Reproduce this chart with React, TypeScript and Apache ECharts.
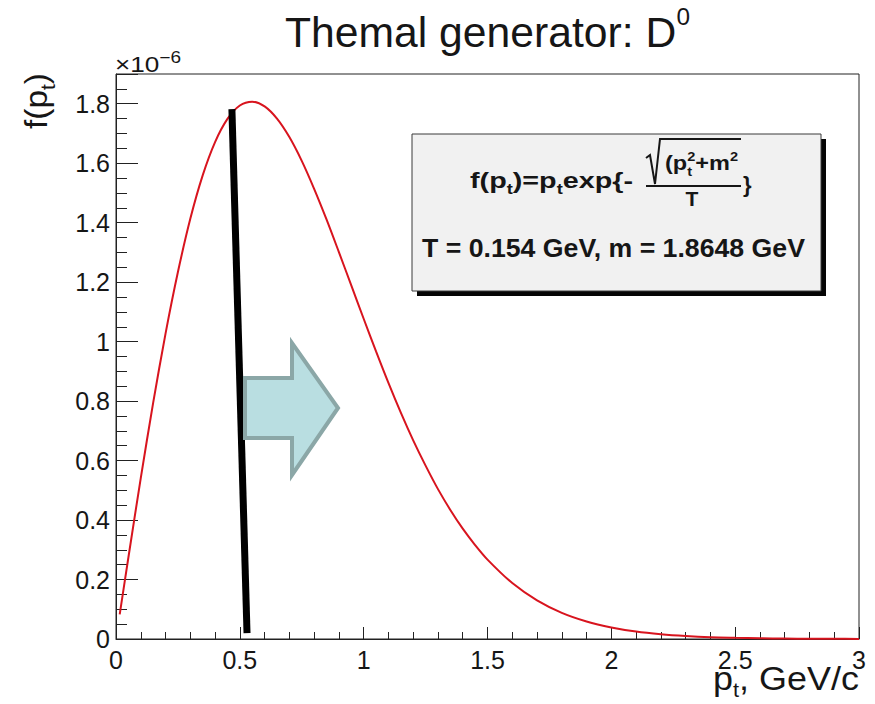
import React, { useEffect, useRef } from 'react';
import * as echarts from 'echarts';

// ---- data (f(pt) in units of 1e-6) ----
const ptValues = [
  0.015, 0.05, 0.1, 0.15, 0.2, 0.25, 0.3, 0.35, 0.4, 0.45, 0.5, 0.55, 0.6, 0.65, 0.7, 0.75,
  0.8, 0.85, 0.9, 0.95, 1.0, 1.05, 1.1, 1.15, 1.2, 1.25, 1.3, 1.35, 1.4, 1.45, 1.5, 1.6, 1.7,
  1.8, 1.9, 2.0, 2.1, 2.2, 2.3, 2.4, 2.5, 2.6, 2.7, 2.8, 2.9, 3.0,
];
const fValues = [
  0.083, 0.274, 0.541, 0.794, 1.027, 1.234, 1.413, 1.559, 1.671, 1.749, 1.794, 1.807, 1.791,
  1.750, 1.688, 1.608, 1.514, 1.411, 1.301, 1.189, 1.077, 0.967, 0.861, 0.761, 0.668, 0.583,
  0.504, 0.434, 0.371, 0.316, 0.267, 0.188, 0.130, 0.088, 0.059, 0.039, 0.025, 0.016, 0.010,
  0.006, 0.004, 0.0025, 0.0015, 0.0009, 0.0006, 0.0003,
];
// hand-drawn black marker line (pt, f)
const markerPt = [0.468, 0.529];
const markerF = [1.782, 0.02];

const xTicks = [0, 0.5, 1, 1.5, 2, 2.5, 3];
const yTickStep = 0.2;
const yMax = 1.9;

const titleText = 'Themal generator: D';
const titleSup = '0';
const formulaLine2 = 'T = 0.154 GeV, m = 1.8648 GeV';

const FONT = "'Liberation Sans', Arial, Helvetica, sans-serif";
const INK = '#161616';

let measureCtx: CanvasRenderingContext2D | null = null;
function measure(t: string, size: number, bold: boolean) {
  if (!measureCtx) measureCtx = document.createElement('canvas').getContext('2d');
  measureCtx!.font = `${bold ? 'bold ' : ''}${size}px ${FONT}`;
  return measureCtx!.measureText(t).width;
}

type Piece = { t: string; size: number; dy?: number; stay?: boolean };
function run(o: {
  x: number; y: number; pieces: Piece[]; bold?: boolean; color?: string;
  anchor?: 'left' | 'right' | 'center'; width?: number; rotation?: number;
}) {
  let cx = 0;
  const children: any[] = [];
  for (const p of o.pieces) {
    const w = measure(p.t, p.size, !!o.bold);
    children.push({
      type: 'text',
      z: 60,
      x: cx,
      y: (p.dy || 0) - 0.35 * p.size,
      style: {
        text: p.t, fontSize: p.size, fontFamily: FONT, fontWeight: o.bold ? 'bold' : 'normal',
        fill: o.color || INK, align: 'left', verticalAlign: 'middle',
      },
    });
    if (!p.stay) cx += w;
  }
  const natural = cx || 1;
  const sx = o.width ? o.width / natural : 1;
  const off = o.anchor === 'right' ? -natural : o.anchor === 'center' ? -natural / 2 : 0;
  children.forEach((c) => (c.x += off));
  return { type: 'group', x: o.x, y: o.y, scaleX: sx, rotation: o.rotation || 0, z: 60, children };
}

export default function App() {
  const ref = useRef<HTMLDivElement>(null);
  useEffect(() => {
    document.body.style.margin = '0';
    if (!ref.current) return;
    const chart = echarts.init(ref.current, undefined, { renderer: 'svg' });
    const axisColor = '#222';
    const option: any = {
      animation: false,
      backgroundColor: '#ffffff',
      grid: { left: 116, right: 16, top: 74, bottom: 65, show: true, borderColor: axisColor, borderWidth: 1, backgroundColor: 'transparent' },
      xAxis: {
        type: 'value', min: xTicks[0], max: xTicks[xTicks.length - 1], interval: xTicks[1] - xTicks[0],
        axisLine: { show: true, onZero: false, lineStyle: { color: axisColor, width: 1 } },
        axisTick: { show: true, inside: true, length: 12, lineStyle: { color: axisColor } },
        minorTick: { show: true, splitNumber: 5, length: 7, lineStyle: { color: axisColor } },
        splitLine: { show: false },
        axisLabel: { fontSize: 25, color: INK, margin: 8, fontFamily: FONT },
      },
      yAxis: {
        type: 'value', min: 0, max: yMax, interval: yTickStep,
        axisLine: { show: true, lineStyle: { color: axisColor, width: 1 } },
        axisTick: { show: true, inside: true, length: 22, lineStyle: { color: axisColor } },
        minorTick: { show: true, splitNumber: 4, length: 11, lineStyle: { color: axisColor } },
        splitLine: { show: false },
        axisLabel: { fontSize: 25, color: INK, margin: 6, fontFamily: FONT, showMaxLabel: false },
      },
      series: [
        {
          type: 'line', data: ptValues.map((x, i) => [x, fValues[i]]), symbol: 'none', smooth: 0.3,
          lineStyle: { color: '#d8141e', width: 2 }, z: 3,
        },
        {
          type: 'line', data: markerPt.map((x, i) => [x, markerF[i]]), symbol: 'none',
          lineStyle: { color: '#000', width: 7 }, z: 4,
        },
      ],
      graphic: [
        run({ x: 285, y: 47, pieces: [{ t: titleText, size: 42 }, { t: titleSup, size: 24, dy: -22 }], width: 405 }),
        run({ x: 115, y: 72, pieces: [{ t: '×10', size: 22 }, { t: '−6', size: 16, dy: -9 }], width: 66 }),
        run({ x: 47, y: 73, rotation: Math.PI / 2, anchor: 'right', width: 56,
          pieces: [{ t: 'f(p', size: 32 }, { t: 't', size: 20, dy: 8 }, { t: ')', size: 32 }] }),
        run({ x: 859, y: 690, anchor: 'right', width: 146,
          pieces: [{ t: 'p', size: 33 }, { t: 't', size: 20, dy: 7 }, { t: ', GeV/c', size: 33 }] }),
        // stat box
        { type: 'rect', z: 40, shape: { x: 417, y: 139, width: 409, height: 157 }, style: { fill: '#050505' } },
        { type: 'rect', z: 41, shape: { x: 412, y: 134, width: 409, height: 157 }, style: { fill: '#f1f1f1', stroke: '#3a3a3a', lineWidth: 1 } },
        run({ x: 470, y: 188, bold: true, width: 163,
          pieces: [{ t: 'f(p', size: 22 }, { t: 't', size: 14, dy: 6 }, { t: ')=p', size: 22 }, { t: 't', size: 14, dy: 6 }, { t: 'exp{-', size: 22 }] }),
        run({ x: 665, y: 170, bold: true, width: 73,
          pieces: [{ t: '(p', size: 21 }, { t: 't', size: 13, dy: 6, stay: true }, { t: '2', size: 13, dy: -9 }, { t: '+m', size: 21 }, { t: '2', size: 13, dy: -9 }] }),
        { type: 'polyline', z: 60, shape: { points: [[646, 158], [650, 155], [655, 184], [660, 139], [741, 139]] }, style: { stroke: INK, lineWidth: 2, fill: null } },
        { type: 'line', z: 60, shape: { x1: 646, y1: 186, x2: 741, y2: 186 }, style: { stroke: INK, lineWidth: 2 } },
        run({ x: 692, y: 206, bold: true, anchor: 'center', pieces: [{ t: 'T', size: 21 }] }),
        run({ x: 743, y: 192, bold: true, pieces: [{ t: '}', size: 22 }] }),
        run({ x: 422, y: 257, bold: true, width: 383, pieces: [{ t: formulaLine2, size: 26 }] }),
        // arrow
        {
          type: 'polygon', z: 45,
          shape: { points: [[245, 378], [292, 378], [292, 343], [338, 408], [292, 475], [292, 438], [245, 438]] },
          style: { fill: '#b9dee1', stroke: '#8ba7a7', lineWidth: 4 },
        },
      ],
    };
    chart.setOption(option);
    return () => chart.dispose();
  }, []);
  return <div ref={ref} style={{ width: 875, height: 704 }} />;
}
